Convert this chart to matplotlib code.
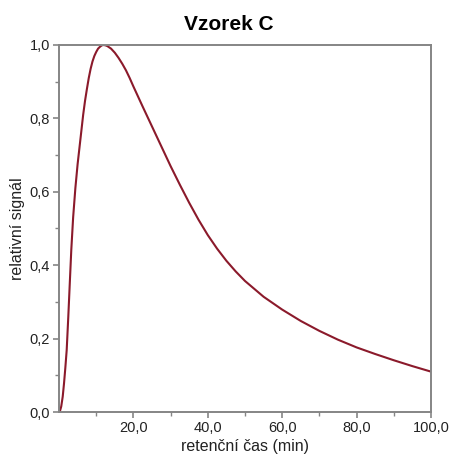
import matplotlib
matplotlib.use("Agg")
import matplotlib.pyplot as plt

# values
cas = [0, 0.3, 0.6, 1.0, 1.35, 1.7, 2.07, 2.5, 2.9, 3.3, 3.8, 4.4, 5.0, 5.5, 6.0,
       6.5, 7.0, 7.5, 8.0, 8.5, 9.0, 9.5, 10.0, 10.5, 11.0, 11.5, 12.0, 12.5, 13.0,
       14.0, 15.0, 16.0, 17.0, 18.0, 19.0, 20.0, 22.5, 25.0, 27.5, 30.0, 32.5, 35.0,
       37.5, 40.0, 42.5, 45.0, 47.5, 50.0, 55.0, 60.0, 65.0, 70.0, 75.0, 80.0, 85.0,
       90.0, 95.0, 100.0]
signal = [0, 0.004, 0.015, 0.042, 0.078, 0.12, 0.169, 0.26, 0.351, 0.441, 0.53, 0.61,
          0.675, 0.72, 0.765, 0.81, 0.848, 0.88, 0.91, 0.935, 0.955, 0.97, 0.981, 0.99,
          0.995, 0.999, 1.0, 0.999, 0.997, 0.99, 0.979, 0.965, 0.949, 0.931, 0.91, 0.887,
          0.832, 0.778, 0.724, 0.670, 0.619, 0.570, 0.524, 0.482, 0.445, 0.412, 0.383,
          0.357, 0.314, 0.279, 0.248, 0.221, 0.197, 0.176, 0.158, 0.141, 0.125, 0.110]

x_major = [20, 40, 60, 80, 100]
x_minor = [10, 30, 50, 70, 90]
y_major = [0.0, 0.2, 0.4, 0.6, 0.8, 1.0]
y_minor = [0.1, 0.3, 0.5, 0.7, 0.9]

plt.rcParams['font.family'] = ['Liberation Sans', 'DejaVu Sans']

fig = plt.figure(figsize=(4.49, 4.54), dpi=100)
ax = fig.add_axes([0.1314, 0.0925, 0.8285, 0.8084])

ax.plot(cas, signal, color='#8b1a2b', lw=1.5)

ax.set_xlim(0, 100)
ax.set_ylim(0, 1)
ax.set_xticks(x_major)
ax.set_xticks(x_minor, minor=True)
ax.set_yticks(y_major)
ax.set_yticks(y_minor, minor=True)
ax.set_xticklabels([f"{v:.1f}".replace('.', ',') for v in x_major])
ax.set_yticklabels([f"{v:.1f}".replace('.', ',') for v in y_major])

for s in ax.spines.values():
    s.set_color('#858585')
    s.set_linewidth(1.4)
ax.tick_params(which='major', length=4, width=1.2, color='#858585',
               labelsize=10.5, labelcolor='#222222', pad=2.5)
ax.tick_params(which='minor', length=3, width=1.0, color='#858585')

# title sits a bit left of the axes centre, as in the original
fig.text(0.51, 0.935, 'Vzorek C', fontsize=15, fontweight='bold', ha='center', va='baseline')
ax.set_xlabel('retenční čas (min)', fontsize=11.5, labelpad=3, color='#222222')
ax.set_ylabel('relativní signál', fontsize=11.5, labelpad=3, color='#222222')

fig.savefig('out.png', dpi=100)
